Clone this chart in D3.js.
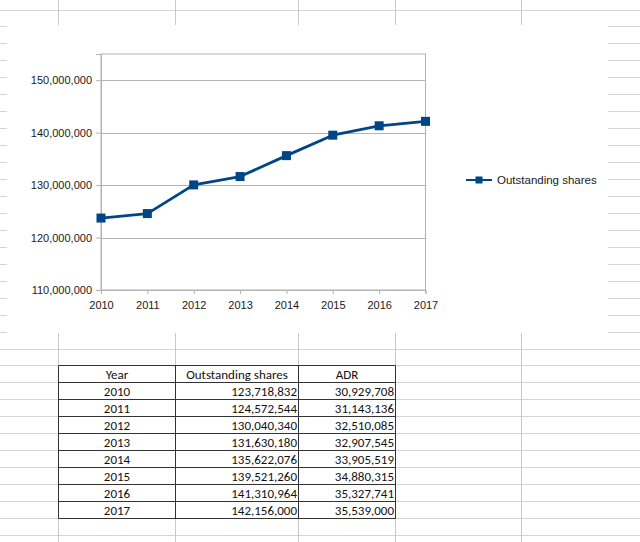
<!DOCTYPE html>
<html>
<head>
<meta charset="utf-8">
<script src="https://cdn.jsdelivr.net/npm/d3@7"></script>
<style>
body { margin: 0; background: #fff; }
svg { display: block; }
</style>
</head>
<body>
<svg width="640" height="542"></svg>
<script>
// data read from the sheet
var years = [2010, 2011, 2012, 2013, 2014, 2015, 2016, 2017];
var shares = [123718832, 124572544, 130040340, 131630180, 135622076, 139521260, 141310964, 142156000];
var adr = [30929708, 31143136, 32510085, 32907545, 33905519, 34880315, 35327741, 35539000];
var yTicks = [110000000, 120000000, 130000000, 140000000, 150000000];
var headers = ["Year", "Outstanding shares", "ADR"];
var seriesName = "Outstanding shares";

var svg = d3.select("svg"),
    width = +svg.attr("width"),
    height = +svg.attr("height");

var fmt = d3.format(",");
var blue = "#004586";

// spreadsheet grid behind everything
var rowH = 16.95, rowTop = 9.5;
var cols = [58.5, 175.5, 298.5, 395.5, 521.5];
var grid = svg.append("g").attr("class", "sheet");

grid.selectAll("line.row")
  .data(d3.range(0, 32))
  .enter().append("line")
    .attr("class", "row")
    .attr("x1", 0).attr("x2", width)
    .attr("y1", function(d) { return Math.round(rowTop + d * rowH) + 0.5; })
    .attr("y2", function(d) { return Math.round(rowTop + d * rowH) + 0.5; })
    .attr("stroke", "#d4d4d4");

grid.selectAll("line.col")
  .data(cols)
  .enter().append("line")
    .attr("class", "col")
    .attr("x1", function(d) { return d; }).attr("x2", function(d) { return d; })
    .attr("y1", 0).attr("y2", height)
    .attr("stroke", "#c8c8c8");

// chart object (white frame covering the grid)
var chart = svg.append("g");
chart.append("rect")
    .attr("x", 7).attr("y", 25)
    .attr("width", 601).attr("height", 308)
    .attr("fill", "#fff");

var x = d3.scalePoint()
    .domain(years)
    .range([101, 425.5]);

var y = d3.scaleLinear()
    .domain([110000000, 155000000])
    .range([290, 54]);

var plot = chart.append("g");

// wall border
plot.append("rect")
    .attr("x", x.range()[0]).attr("y", y.range()[1])
    .attr("width", x.range()[1] - x.range()[0])
    .attr("height", y.range()[0] - y.range()[1])
    .attr("fill", "none")
    .attr("stroke", "#b3b3b3");

// horizontal gridlines
plot.selectAll("line.grid")
  .data(yTicks)
  .enter().append("line")
    .attr("class", "grid")
    .attr("x1", x.range()[0]).attr("x2", x.range()[1])
    .attr("y1", function(d) { return Math.round(y(d)) + 0.5; })
    .attr("y2", function(d) { return Math.round(y(d)) + 0.5; })
    .attr("stroke", "#b3b3b3");

// y axis
var yAxis = plot.append("g")
    .attr("transform", "translate(" + x.range()[0] + ",0)")
    .call(d3.axisLeft(y)
      .tickValues(yTicks)
      .tickSize(5)
      .tickPadding(4)
      .tickFormat(fmt));
yAxis.select(".domain").attr("stroke", "#b3b3b3");
yAxis.selectAll(".tick line").attr("stroke", "#b3b3b3");
yAxis.selectAll("text")
    .attr("font-family", "'Liberation Sans', Arial, sans-serif")
    .attr("font-size", 11)
    .attr("fill", "#1a1a1a");

// x axis
var xAxis = plot.append("g")
    .attr("transform", "translate(0," + y.range()[0] + ")")
    .call(d3.axisBottom(x)
      .tickSize(4)
      .tickPadding(7)
      .tickFormat(d3.format("d")));
xAxis.select(".domain").attr("stroke", "#b3b3b3");
xAxis.selectAll(".tick line").attr("stroke", "#b3b3b3");
xAxis.selectAll("text")
    .attr("font-family", "'Liberation Sans', Arial, sans-serif")
    .attr("font-size", 11)
    .attr("fill", "#1a1a1a");

// series
var line = d3.line()
    .x(function(d, i) { return x(years[i]); })
    .y(function(d) { return y(d); });

plot.append("path")
    .datum(shares)
    .attr("fill", "none")
    .attr("stroke", blue)
    .attr("stroke-width", 2.8)
    .attr("stroke-linejoin", "round")
    .attr("d", line);

var ms = 9;
plot.selectAll("rect.marker")
  .data(shares)
  .enter().append("rect")
    .attr("class", "marker")
    .attr("x", function(d, i) { return x(years[i]) - ms / 2; })
    .attr("y", function(d) { return y(d) - ms / 2; })
    .attr("width", ms).attr("height", ms)
    .attr("fill", blue);

// legend
var legend = chart.append("g").attr("transform", "translate(466,180)");
legend.append("line")
    .attr("x1", 0).attr("x2", 26)
    .attr("stroke", blue).attr("stroke-width", 2);
legend.append("rect")
    .attr("x", 9.5).attr("y", -3.5)
    .attr("width", 7).attr("height", 7)
    .attr("fill", blue);
legend.append("text")
    .attr("x", 31).attr("y", 4)
    .attr("font-family", "'Liberation Sans', Arial, sans-serif")
    .attr("font-size", 11.5)
    .attr("fill", "#1a1a1a")
    .text(seriesName);

// data table below the chart
var tableCols = [58.5, 175.5, 298.5, 395.5];
var rows = ["header"].concat(years);
var ry = d3.scaleBand()
    .domain(rows)
    .range([365.5, 518.5]);

var table = svg.append("g")
    .attr("font-family", "Carlito, Lato, sans-serif")
    .attr("font-size", 13)
    .attr("fill", "#111");

table.selectAll("line.h")
  .data(d3.range(rows.length + 1))
  .enter().append("line")
    .attr("class", "h")
    .attr("x1", tableCols[0]).attr("x2", tableCols[3])
    .attr("y1", function(d) { return Math.round(365 + d * ry.bandwidth()) + 0.5; })
    .attr("y2", function(d) { return Math.round(365 + d * ry.bandwidth()) + 0.5; })
    .attr("stroke", "#333");

table.selectAll("line.v")
  .data(tableCols)
  .enter().append("line")
    .attr("class", "v")
    .attr("x1", function(d) { return d; }).attr("x2", function(d) { return d; })
    .attr("y1", ry.range()[0]).attr("y2", ry.range()[1])
    .attr("stroke", "#333");

table.selectAll("text.head")
  .data(headers)
  .enter().append("text")
    .attr("class", "head")
    .attr("x", function(d, i) { return (tableCols[i] + tableCols[i + 1]) / 2; })
    .attr("y", ry("header") + ry.bandwidth() / 2 + 4.5)
    .attr("text-anchor", "middle")
    .text(function(d) { return d; });

var body = table.selectAll("g.r")
  .data(years)
  .enter().append("g")
    .attr("class", "r")
    .attr("transform", function(d) { return "translate(0," + (ry(d) + ry.bandwidth() / 2 + 4.5) + ")"; });

body.append("text")
    .attr("x", (tableCols[0] + tableCols[1]) / 2)
    .attr("text-anchor", "middle")
    .text(function(d) { return d; });

body.append("text")
    .attr("x", tableCols[2] - 1.5)
    .attr("text-anchor", "end")
    .text(function(d, i) { return fmt(shares[i]); });

body.append("text")
    .attr("x", tableCols[3] - 1.5)
    .attr("text-anchor", "end")
    .text(function(d, i) { return fmt(adr[i]); });
</script>
</body>
</html>
